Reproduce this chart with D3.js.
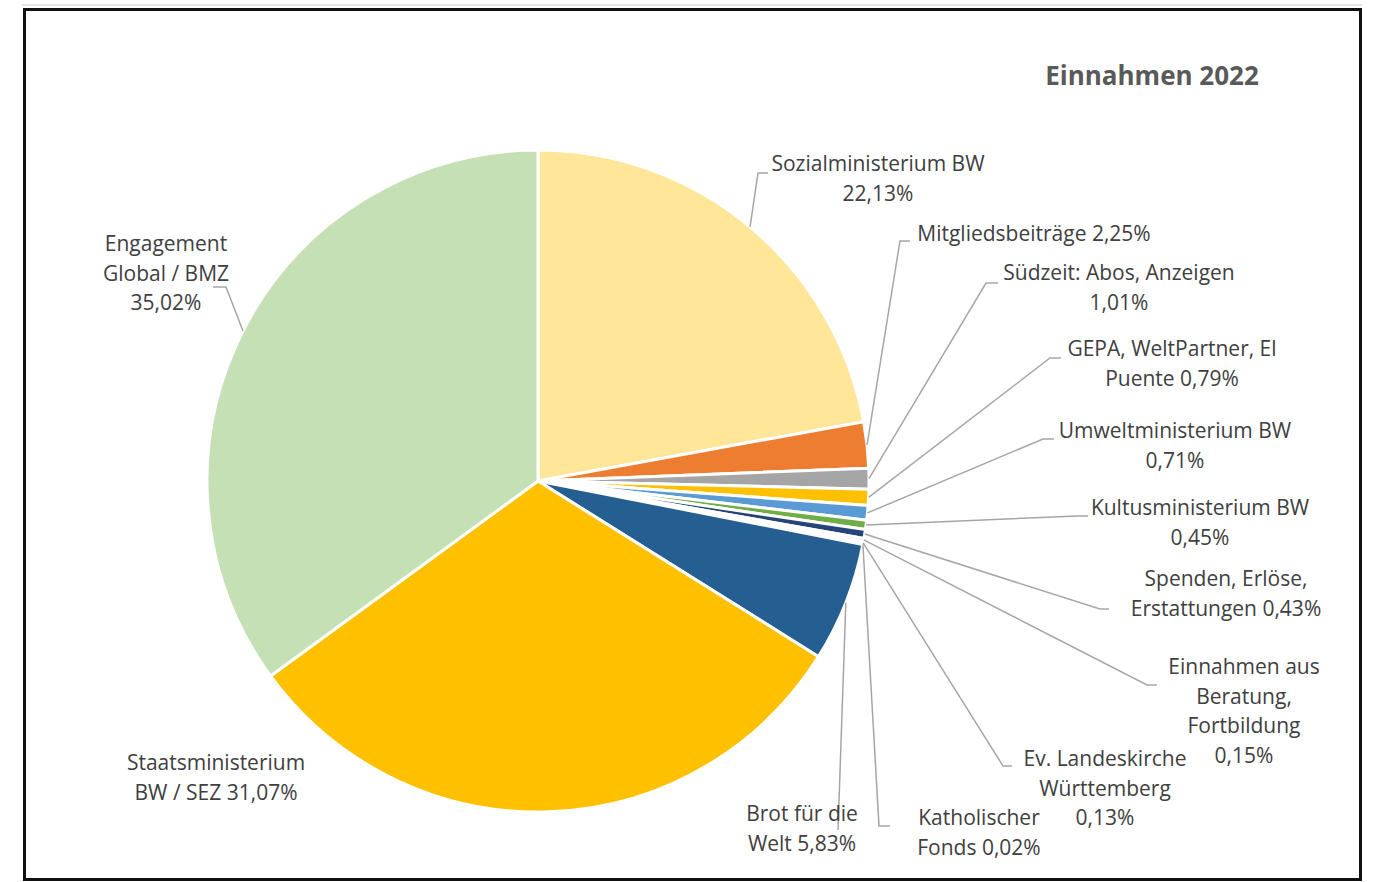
<!DOCTYPE html>
<html><head><meta charset="utf-8">
<script src="https://cdn.jsdelivr.net/npm/d3@7"></script>
<style>body{margin:0;background:#fff}svg{display:block}</style>
</head><body>
<svg id="c" width="1373" height="882"></svg>
<script>
// ---- data ----
const categories = ["Sozialministerium BW","Mitgliedsbeiträge","Südzeit: Abos, Anzeigen","GEPA, WeltPartner, El Puente","Umweltministerium BW","Kultusministerium BW","Spenden, Erlöse, Erstattungen","Einnahmen aus Beratung, Fortbildung","Ev. Landeskirche Württemberg","Katholischer Fonds","Brot für die Welt","Staatsministerium BW / SEZ","Engagement Global / BMZ"];
const values = [22.13,2.25,1.01,0.79,0.71,0.45,0.43,0.15,0.13,0.02,5.83,31.07,35.02];
const colors = ["#FFE699","#ED7D31","#A5A5A5","#FFC000","#5B9BD5","#70AD47","#264478","#9E480E","#636363","#997300","#255E91","#FFC000","#C5E0B4"];
// label lines; {p} is replaced by the percentage
const labelLines = [
  ["Sozialministerium BW","{p}"],
  ["Mitgliedsbeiträge {p}"],
  ["Südzeit: Abos, Anzeigen","{p}"],
  ["GEPA, WeltPartner, El","Puente {p}"],
  ["Umweltministerium BW","{p}"],
  ["Kultusministerium BW","{p}"],
  ["Spenden, Erlöse,","Erstattungen {p}"],
  ["Einnahmen aus","Beratung,","Fortbildung","{p}"],
  ["Ev. Landeskirche","Württemberg","{p}"],
  ["Katholischer","Fonds {p}"],
  ["Brot für die","Welt {p}"],
  ["Staatsministerium","BW / SEZ {p}"],
  ["Engagement","Global / BMZ","{p}"]
];
const title = "Einnahmen 2022";

// ---- layout (positions only) ----
const W = 1373, H = 882;
const cx = 538, cy = 481, R = 331;
// label centre x, first line centre y, leader elbow (ex,ey), leader end x (hx); null = no leader
const labelPos = [
  {x:878, y:163, ex:758, ey:173, hx:768},
  {x:1034, y:233, ex:900, ey:241, hx:910},
  {x:1119, y:272, ex:986, ey:283, hx:998},
  {x:1172, y:348, ex:1050, ey:358, hx:1061},
  {x:1175, y:430, ex:1043, ey:439, hx:1054},
  {x:1200, y:507, ex:1077, ey:516, hx:1088},
  {x:1226, y:578, ex:1100, ey:609, hx:1109},
  {x:1244, y:666, ex:1147, ey:685, hx:1157},
  {x:1105, y:758, ex:1003, ey:766, hx:1012},
  {x:979, y:817, ex:879, ey:826, hx:890},
  {x:802, y:813, ex:838, ey:830, hx:838},
  {x:216, y:762, ex:null},
  {x:166, y:243, ex:226, ey:287, hx:213}
];
const lineH = 29.6;

const svg = d3.select("#c");
svg.append("rect").attr("x",0).attr("y",0).attr("width",W).attr("height",H).attr("fill","#fff");
svg.append("line").attr("x1",22).attr("x2",1362).attr("y1",5).attr("y2",5).attr("stroke","#e6e6e6").attr("stroke-width",2);
svg.append("rect").attr("x",24.5).attr("y",9.5).attr("width",1336).attr("height",870)
   .attr("fill","none").attr("stroke","#111").attr("stroke-width",3);

const data = categories.map((c,i)=>({name:c, value:values[i], color:colors[i], lines:labelLines[i], pos:labelPos[i]}));
const pie = d3.pie().value(d=>d.value).sort(null);
const arcs = pie(data);
const arc = d3.arc().innerRadius(0).outerRadius(R);
const g = svg.append("g").attr("transform",`translate(${cx},${cy})`);
g.selectAll("path.slice").data(arcs).join("path").attr("class","slice")
  .attr("d",arc).attr("fill",d=>d.data.color).attr("stroke","#fff").attr("stroke-width",3).attr("stroke-linejoin","round");

const fmt = v => v.toFixed(2).replace(".",",") + "%";
const font = "'Open Sans', 'Noto Sans', sans-serif";

// leaders
arcs.forEach(a=>{
  const p = a.data.pos;
  if(p.ex==null) return;
  const ang = (a.startAngle+a.endAngle)/2;
  const sx = cx + R*Math.sin(ang), sy = cy - R*Math.cos(ang);
  svg.append("path").attr("d",`M${sx},${sy}L${p.ex},${p.ey}L${p.hx},${p.ey}`)
    .attr("fill","none").attr("stroke","#A6A6A6").attr("stroke-width",1.5);
});

// labels
arcs.forEach(a=>{
  const p = a.data.pos;
  const t = svg.append("text").attr("text-anchor","middle").attr("font-family",font)
    .attr("font-size",21).attr("fill","#404040");
  a.data.lines.forEach((l,i)=>{
    t.append("tspan").attr("x",p.x).attr("y",p.y+i*lineH).attr("dominant-baseline","central")
      .text(l.replace("{p}",fmt(a.data.value)));
  });
});

svg.append("text").attr("x",1152).attr("y",75).attr("text-anchor","middle").attr("dominant-baseline","central")
  .attr("font-family",font).attr("font-weight","bold").attr("font-size",26).attr("fill","#595959").text(title);
</script>
</body></html>
